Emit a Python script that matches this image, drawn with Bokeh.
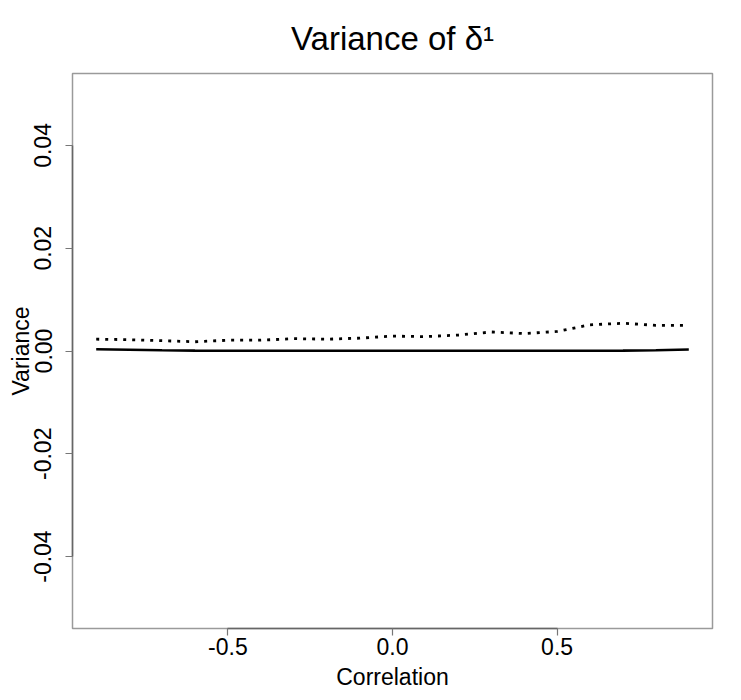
from bokeh.plotting import figure
from bokeh.models import Range1d, FixedTicker, NumeralTickFormatter, Title
from bokeh.embed import file_html
from bokeh.resources import INLINE

correlation = [-0.9, -0.8, -0.7, -0.6, -0.5, -0.4, -0.3, -0.2, -0.1, 0.0,
               0.1, 0.2, 0.3, 0.4, 0.5, 0.6, 0.7, 0.8, 0.9]
var_solid = [0.00035, 0.00025, 0.00015, 0.00008, 0.00005, 0.00004, 0.00004, 0.00004, 0.00004, 0.00004,
             0.00004, 0.00004, 0.00004, 0.00004, 0.00005, 0.00006, 0.00008, 0.00014, 0.00028]
var_dotted = [0.0023, 0.0022, 0.0020, 0.0018, 0.0021, 0.0021, 0.0024, 0.0023, 0.0025, 0.0029,
              0.0028, 0.0031, 0.0037, 0.0034, 0.0038, 0.0051, 0.0054, 0.0050, 0.0050]
x_ticks = [-0.5, 0.0, 0.5]
y_ticks = [-0.04, -0.02, 0.0, 0.02, 0.04]
title_text = "Variance of δ¹"

FONT = "Liberation Sans"
W, H = 741, 700
BL, BR, BT, BB = 72, 29, 72, 72

p = figure(width=W, height=H, output_backend="svg", toolbar_location=None,
           x_range=Range1d(-0.972, 0.972), y_range=Range1d(-0.054, 0.054),
           min_border_left=BL, min_border_right=BR, min_border_top=BT, min_border_bottom=BB)
p.title = Title(text=title_text, align="center", text_font=FONT,
                text_font_size="33px", text_font_style="normal", text_color="black", standoff=34)
p.grid.visible = False
p.outline_line_color = "#9a9a9a"
p.outline_line_width = 1.5
p.background_fill_color = "white"
p.border_fill_color = "white"

p.line(correlation, var_solid, line_color="black", line_width=2.6)
p.line(correlation, var_dotted, line_color="black", line_width=2.8, line_dash="3 6")

for ax, ticks, fmt, bnds in ((p.xaxis[0], x_ticks, "0.0", (-0.5, 0.5)),
                             (p.yaxis[0], y_ticks, "0.00", (-0.04, 0.04))):
    ax.ticker = FixedTicker(ticks=ticks, minor_ticks=[])
    ax.formatter = NumeralTickFormatter(format=fmt)
    ax.bounds = bnds
    ax.axis_line_color = "#666666"
    ax.axis_line_width = 1.5
    ax.major_tick_line_color = "#777777"
    ax.major_tick_line_width = 1.2
    ax.major_tick_out = 7
    ax.major_tick_in = 0
    ax.minor_tick_out = 0
    ax.minor_tick_in = 0
    ax.major_label_text_font = FONT
    ax.major_label_text_font_size = "23px"
    ax.major_label_text_color = "black"
    ax.axis_label_text_font = FONT
    ax.axis_label_text_font_size = "23px"
    ax.axis_label_text_font_style = "normal"
    ax.axis_label_text_color = "black"

p.xaxis.axis_label = "Correlation"
p.yaxis.axis_label = "Variance"
p.xaxis.major_label_standoff = 2
p.xaxis.axis_label_standoff = 6
p.yaxis.major_label_orientation = "vertical"
p.yaxis.major_label_standoff = 14
p.yaxis.axis_label_standoff = -2

open("out.html", "w").write(file_html(p, INLINE))
